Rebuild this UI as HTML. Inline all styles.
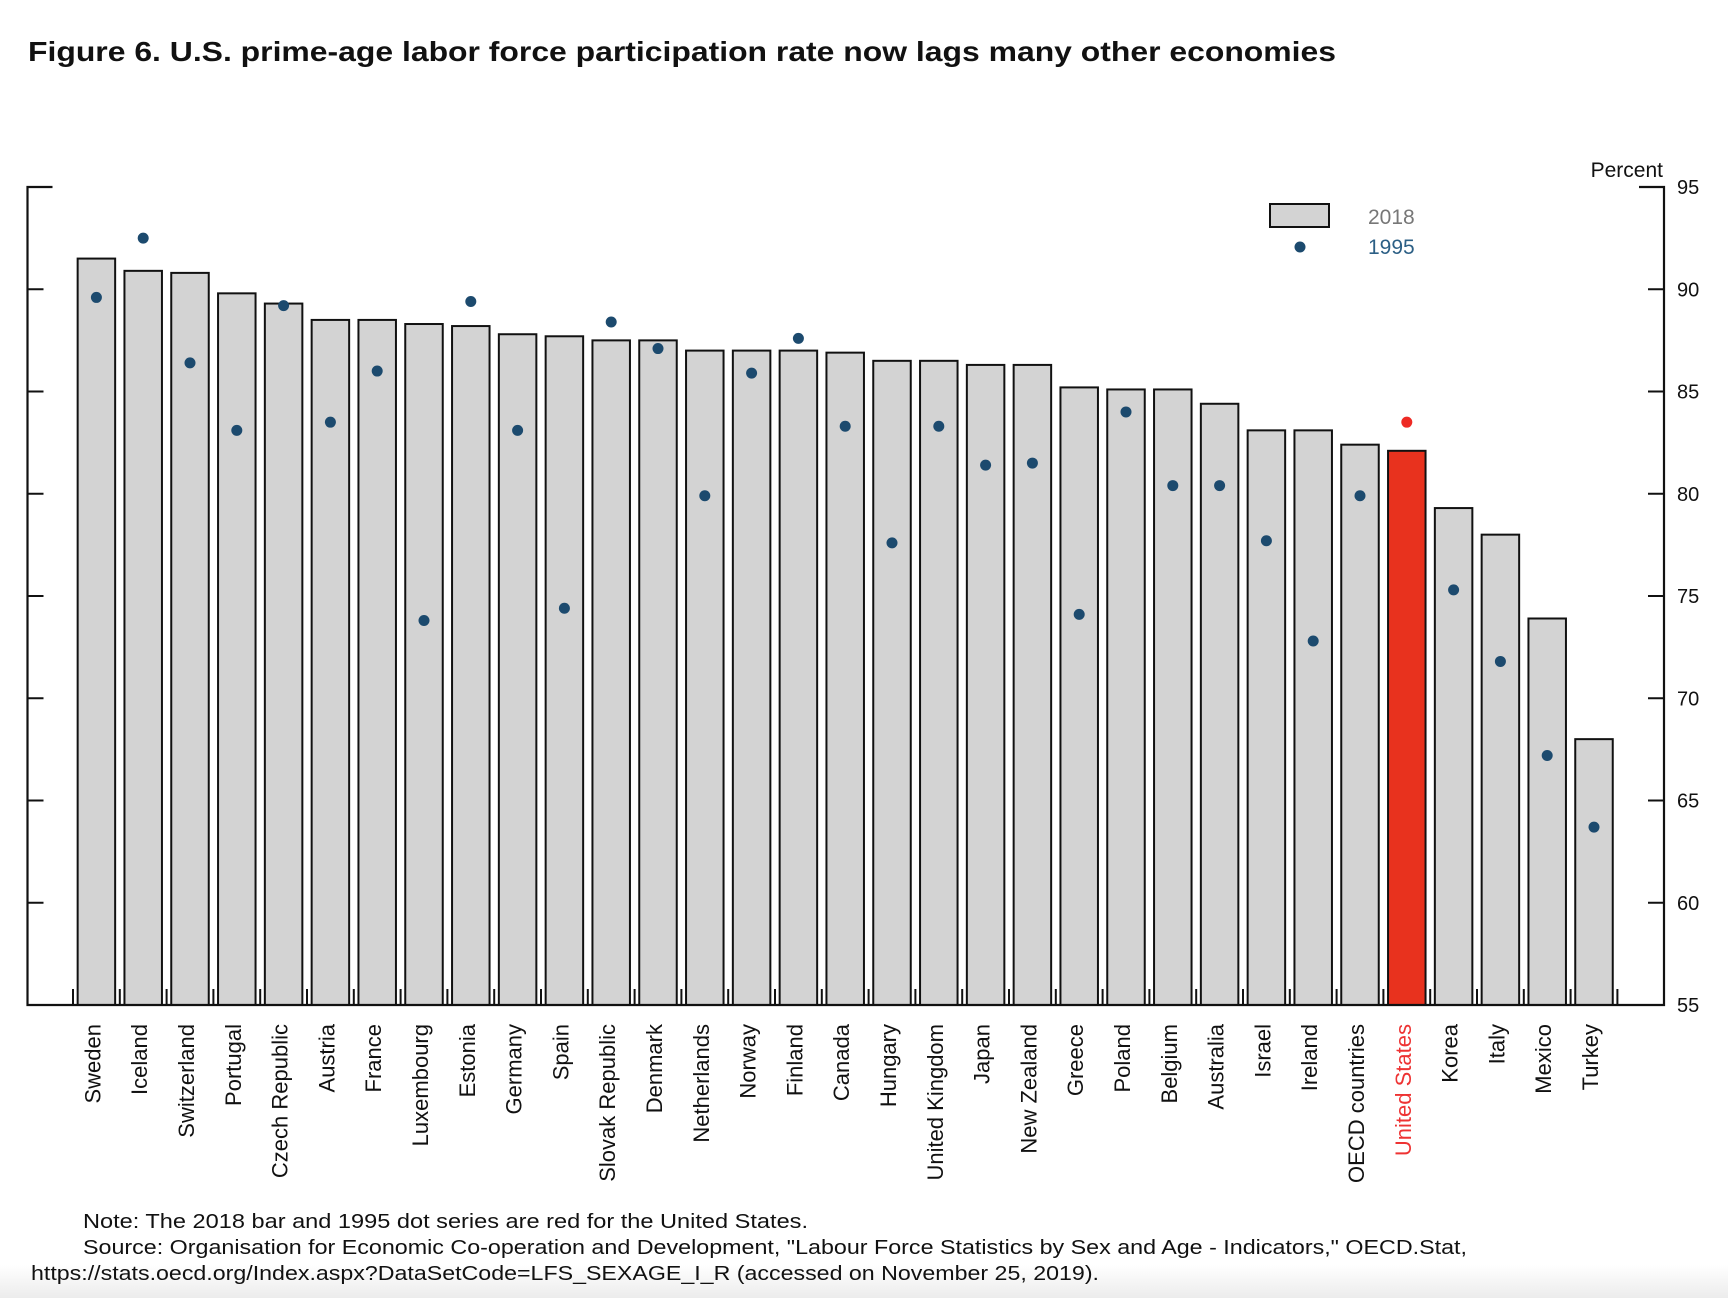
<!DOCTYPE html>
<html><head><meta charset="utf-8"><style>
html,body{margin:0;padding:0;background:#fff;}
svg{display:block;font-family:"Liberation Sans",sans-serif;}
</style></head><body>
<svg id="chart" width="1728" height="1298" viewBox="0 0 1728 1298" xmlns="http://www.w3.org/2000/svg">
<defs><linearGradient id="bg" x1="0" y1="0" x2="0" y2="1"><stop offset="0" stop-color="#fff"/><stop offset="1" stop-color="#ececec"/></linearGradient></defs>
<rect x="0" y="1265" width="1728" height="33" fill="url(#bg)"/>
<text x="28" y="61" font-size="28" font-weight="bold" fill="#111" textLength="1308" lengthAdjust="spacingAndGlyphs">Figure 6. U.S. prime-age labor force participation rate now lags many other economies</text>
<text x="1663" y="177" font-size="21" text-anchor="end" fill="#111">Percent</text>
<g id="plot"></g>
<g>
<rect x="1270" y="204" width="59" height="23" fill="#d3d3d3" stroke="#111" stroke-width="2"/>
<text x="1368" y="224" font-size="21" fill="#777">2018</text>
<circle cx="1300" cy="247" r="5.5" fill="#1c4a6e"/>
<text x="1368" y="254" font-size="21" fill="#2c5f85">1995</text>
</g>
<g font-size="20" fill="#111">
<text x="83" y="1228" textLength="725" lengthAdjust="spacingAndGlyphs">Note:   The 2018 bar and 1995 dot series are red for the United States.</text>
<text x="83" y="1254" textLength="1384" lengthAdjust="spacingAndGlyphs">Source:  Organisation for Economic Co-operation and Development, "Labour Force Statistics by Sex and Age - Indicators," OECD.Stat,</text>
<text x="31" y="1280" textLength="1068" lengthAdjust="spacingAndGlyphs">https://stats.oecd.org/Index.aspx?DataSetCode=LFS_SEXAGE_I_R (accessed on November 25, 2019).</text>
</g>
</svg>
<script>
const categories=["Sweden","Iceland","Switzerland","Portugal","Czech Republic","Austria","France","Luxembourg","Estonia","Germany","Spain","Slovak Republic","Denmark","Netherlands","Norway","Finland","Canada","Hungary","United Kingdom","Japan","New Zealand","Greece","Poland","Belgium","Australia","Israel","Ireland","OECD countries","United States","Korea","Italy","Mexico","Turkey"];
const values2018=[91.5,90.9,90.8,89.8,89.3,88.5,88.5,88.3,88.2,87.8,87.7,87.5,87.5,87.0,87.0,87.0,86.9,86.5,86.5,86.3,86.3,85.2,85.1,85.1,84.4,83.1,83.1,82.4,82.1,79.3,78.0,73.9,68.0];
const values1995=[89.6,92.5,86.4,83.1,89.2,83.5,86.0,73.8,89.4,83.1,74.4,88.4,87.1,79.9,85.9,87.6,83.3,77.6,83.3,81.4,81.5,74.1,84.0,80.4,80.4,77.7,72.8,79.9,83.5,75.3,71.8,67.2,63.7];
const yTicks=[55,60,65,70,75,80,85,90,95];
const highlight="United States";

const NS="http://www.w3.org/2000/svg";
const plot=document.getElementById('plot');
const X0=27.5,X1=1664,Y95=187,Y55=1005,C0=96.4,PITCH=46.8,BW=37.5;
function y(v){return Y55-(v-55)*(Y55-Y95)/40;}
function x(i){return C0+i*PITCH;}
function mk(t,a){const e=document.createElementNS(NS,t);for(const k in a)e.setAttribute(k,a[k]);plot.appendChild(e);return e;}

categories.forEach((c,i)=>{
  const us=c===highlight;
  const r=mk('rect',{x:x(i)-BW/2,y:y(values2018[i]),width:BW,height:Y55-y(values2018[i]),fill:us?'#e8321e':'#d3d3d3',stroke:'#111','stroke-width':2});
  
  
});
categories.forEach((c,i)=>{
  const us=c===highlight;
  const d=mk('circle',{cx:x(i),cy:y(values1995[i]),r:5.5,fill:us?'#ee2a24':'#1c4a6e'});
  
  
  const t=mk('text',{x:0,y:0,'font-size':22,'text-anchor':'end',fill:us?'#ee3333':'#111',transform:`translate(${x(i)+4},1024) rotate(-90)`});
  t.textContent=c;
  
  
});
for(let i=0;i<=categories.length;i++){
  const gx=x(i)-PITCH/2;
  const tk=mk('line',{x1:gx,x2:gx,y1:Y55,y2:Y55-16,stroke:'#111','stroke-width':2});
  
  
}
const ax=mk('path',{d:`M${X0+25},${Y95}H${X0}V${Y55}H${X1}V${Y95}H${X1-25}`,fill:'none',stroke:'#111','stroke-width':2.2});


yTicks.forEach(v=>{
  if(v!==95&&v!==55){
    const l1=mk('line',{x1:X0,x2:X0+16,y1:y(v),y2:y(v),stroke:'#111','stroke-width':2});
    
    
    const l2=mk('line',{x1:X1-16,x2:X1,y1:y(v),y2:y(v),stroke:'#111','stroke-width':2});
    
    
  }
  const t=mk('text',{x:1677,y:y(v)+7,'font-size':20,fill:'#111'});
  t.textContent=v;
  
  
});
</script>
</body></html>
